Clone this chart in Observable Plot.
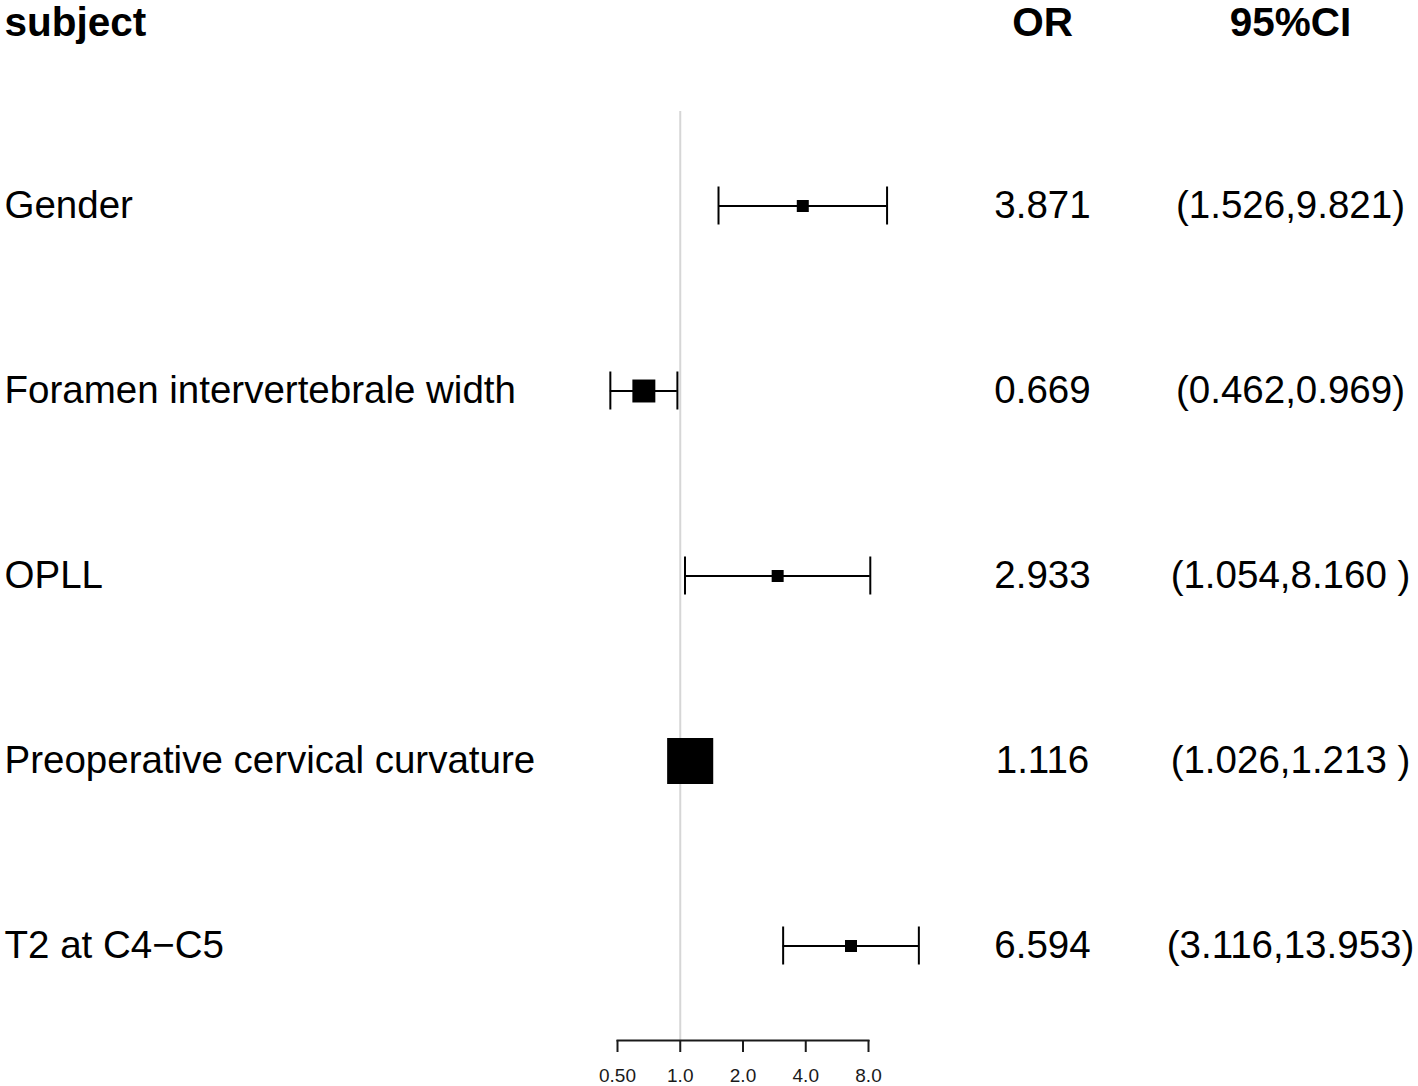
<!DOCTYPE html>
<html><head><meta charset="utf-8">
<script src="https://cdn.jsdelivr.net/npm/d3@7"></script>
<script src="https://cdn.jsdelivr.net/npm/@observablehq/plot@0.6"></script>
<style>html,body{margin:0;padding:0;background:#fff}</style>
</head><body><div id="chart"></div>
<script>
const subjects = ["Gender", "Foramen intervertebrale width", "OPLL", "Preoperative cervical curvature", "T2 at C4\u2212C5"];
const orValues = [3.871, 0.669, 2.933, 1.116, 6.594];
const ciLower = [1.526, 0.462, 1.054, 1.026, 3.116];
const ciUpper = [9.821, 0.969, 8.160, 1.213, 13.953];
const ciLabels = ["(1.526,9.821)", "(0.462,0.969)", "(1.054,8.160\u00a0)", "(1.026,1.213\u00a0)", "(3.116,13.953)"];
const headers = ["subject", "OR", "95%CI"];
const tickValues = [0.5, 1, 2, 4, 8];
const tickLabels = ["0.50", "1.0", "2.0", "4.0", "8.0"];

const rows = subjects.map((s, i) => ({
  subject: s, or: orValues[i], lo: ciLower[i], hi: ciUpper[i], ci: ciLabels[i],
  orText: orValues[i].toFixed(3),
  precision: 1 / Math.log(ciUpper[i] / ciLower[i])
}));
const prec = rows.map(d => d.precision);
const ticks = tickValues.map((v, i) => ({v, label: tickLabels[i]}));

const W = 1418, H = 1086, mL = 617, mR = 550, mT = 111, mB = 46;
const rowFont = 38.5, headFont = 40.5;
const labelX = 4 - mL, orX = 1042 - mL, ciX = 1290 - mL, headY = 23 - mT;

const plot = Plot.plot({
  width: W, height: H,
  marginLeft: mL, marginRight: mR, marginTop: mT, marginBottom: mB,
  style: {fontFamily: "'Liberation Sans', Arial, Helvetica, sans-serif", background: "#fff", color: "#000"},
  x: {type: "log", domain: [0.5, 8], axis: null},
  y: {type: "band", domain: subjects, padding: 0, axis: null},
  r: {type: "log", domain: [d3.median(prec), d3.max(prec)], range: [6.77, 26], clamp: true},
  marks: [
    Plot.ruleX([1], {stroke: "#d6d6d6", strokeWidth: 2}),
    Plot.frame({anchor: "bottom", stroke: "#1a1a1a", strokeWidth: 2}),
    Plot.axisX({ticks: tickValues, tickFormat: () => "", tickSize: 12, strokeWidth: 2, stroke: "#1a1a1a", text: null}),
    Plot.text(ticks, {x: "v", text: "label", frameAnchor: "bottom", dy: 35, fontSize: 19, fill: "#1a1a1a", lineAnchor: "middle"}),
    Plot.ruleY(rows, {y: "subject", x1: "lo", x2: "hi", stroke: "#000", strokeWidth: 2}),
    Plot.tickX(rows, {x: "lo", y: "subject", insetTop: 73.5, insetBottom: 73.5, stroke: "#000", strokeWidth: 2}),
    Plot.tickX(rows, {x: "hi", y: "subject", insetTop: 73.5, insetBottom: 73.5, stroke: "#000", strokeWidth: 2}),
    Plot.dot(rows, {x: "or", y: "subject", r: "precision", symbol: "square", fill: "#000", stroke: null}),
    Plot.text(rows, {y: "subject", text: "subject", frameAnchor: "left", dx: labelX, textAnchor: "start", lineAnchor: "middle", fontSize: rowFont, fill: "#000"}),
    Plot.text(rows, {y: "subject", text: "orText", frameAnchor: "left", dx: orX, textAnchor: "middle", lineAnchor: "middle", fontSize: rowFont, fill: "#000"}),
    Plot.text(rows, {y: "subject", text: "ci", frameAnchor: "left", dx: ciX, textAnchor: "middle", lineAnchor: "middle", fontSize: rowFont, fill: "#000"}),
    Plot.text([headers[0]], {text: d => d, frameAnchor: "top-left", dx: labelX, dy: headY, textAnchor: "start", lineAnchor: "middle", fontSize: headFont, fontWeight: "bold", fill: "#000"}),
    Plot.text([headers[1]], {text: d => d, frameAnchor: "top-left", dx: orX, dy: headY, textAnchor: "middle", lineAnchor: "middle", fontSize: headFont, fontWeight: "bold", fill: "#000"}),
    Plot.text([headers[2]], {text: d => d, frameAnchor: "top-left", dx: ciX, dy: headY, textAnchor: "middle", lineAnchor: "middle", fontSize: headFont, fontWeight: "bold", fill: "#000"})
  ]
});
document.getElementById("chart").appendChild(plot);
</script>
</body></html>
